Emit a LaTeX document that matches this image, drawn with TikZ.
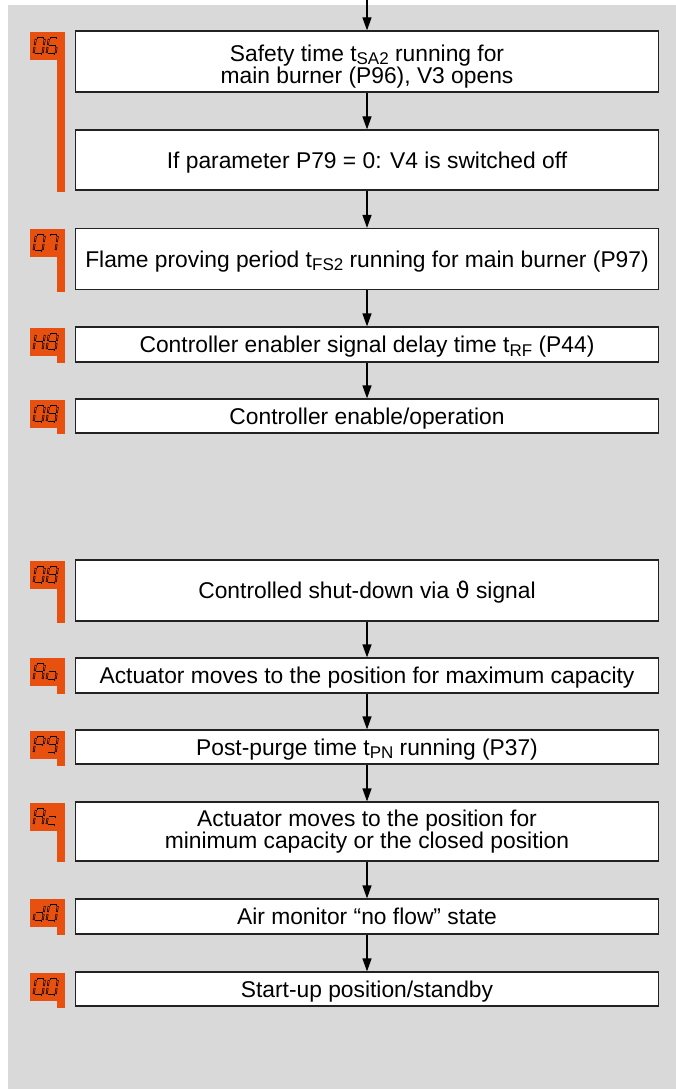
\documentclass[tikz,border=0pt]{standalone}
\usepackage{fontspec}
\setmainfont{Liberation Sans}
\newfontfamily\dvfont{DejaVu Sans}
\usetikzlibrary{arrows.meta}
\definecolor{bggray}{HTML}{D9D9D9}
\definecolor{lblorange}{HTML}{E8500F}
\definecolor{boxline}{HTML}{222222}
\newcommand\subs[1]{\raisebox{-3.5pt}{\fontsize{17}{17}\selectfont #1}}
\tikzset{
  box/.style={draw=boxline, line width=1.2pt, fill=white, minimum width=583pt,
    inner sep=0pt, align=center, font=\fontsize{22.8}{22.5}\selectfont},
  txt/.style={inner sep=0pt, align=center, font=\fontsize{22.8}{22.5}\selectfont},
  one/.style={text height=16.4pt, text depth=0pt},
  arr/.style={-{Triangle[length=13pt,width=9pt]}, line width=1.2pt, draw=black},
  segout/.style={draw=black, line width=1.9pt},
  segin/.style={draw=lblorange, line width=0.7pt, shorten >=0.6pt, shorten <=0.6pt},
}
\newcommand\sevseg[3]{%
  \begin{scope}[shift={(#1,#2)}, x=1pt, y=1pt, xslant=0.15]
    \coordinate (sa1) at (1,16); \coordinate (sa2) at (8,16);
    \coordinate (sb1) at (9,15); \coordinate (sb2) at (9,9);
    \coordinate (sc1) at (9,7);  \coordinate (sc2) at (9,1);
    \coordinate (sd1) at (1,0);  \coordinate (sd2) at (8,0);
    \coordinate (se1) at (0,1);  \coordinate (se2) at (0,7);
    \coordinate (sf1) at (0,9);  \coordinate (sf2) at (0,15);
    \coordinate (sg1) at (1,8);  \coordinate (sg2) at (8,8);
    \foreach \s in #3 {
      \draw[segout] (s\s1) -- (s\s2);
      \draw[segin] (s\s1) -- (s\s2);
    }
  \end{scope}}
% #1 top y, #2 bottom y of stem, #3 first glyph, #4 second glyph
\newcommand\lbl[4]{%
  \fill[lblorange] (30,#1) rectangle (65,{#1+28});
  \fill[lblorange] (57,#1) rectangle (65,#2);
  \sevseg{33.5}{{#1+22}}{#3}
  \sevseg{46.5}{{#1+22}}{#4}}
\def\gZ{a,b,c,d,e,f}
\def\gSix{a,c,d,e,f,g}
\def\gSeven{a,b,c}
\def\gH{b,c,e,f,g}
\def\gEight{a,b,c,d,e,f,g}
\def\gA{a,b,c,e,f,g}
\def\go{c,d,e,g}
\def\gP{a,b,e,f,g}
\def\gNine{a,b,c,d,f,g}
\def\gc{d,e,g}
\def\gd{b,c,d,e,g}
\begin{document}
\begin{tikzpicture}[x=1pt,y=-1pt]
\useasboundingbox (0,0) rectangle (676,1089);
\fill[bggray] (8,5) rectangle (676,1089);

% boxes
\node[box, minimum height=61pt] (b1) at (367,61.5) {};
\node[txt, yshift=-5pt] (t1) at (b1.center) {Safety time t\subs{SA2} running for\\main burner (P96), V3 opens};
\node[box, one, minimum height=60pt] (b2) at (367,160) {If parameter P79 = 0: V4 is switched off};
\node[box, one, minimum height=61pt] (b3) at (367,259) {Flame proving period t\subs{FS2} running for main burner (P97)};
\node[box, one, minimum height=35pt] (b4) at (367,344.5) {Controller enabler signal delay time t\subs{RF} (P44)};
\node[box, one, minimum height=34pt] (b5) at (367,416) {Controller enable/operation};
\node[box, one, minimum height=61pt] (b6) at (367,590.5) {Controlled shut-down via {\dvfont ϑ} signal};
\node[box, one, minimum height=35pt] (b7) at (367,675.5) {Actuator moves to the position for maximum capacity};
\node[box, one, minimum height=34pt] (b8) at (367,747) {Post-purge time t\subs{PN} running (P37)};
\node[box, minimum height=59pt] (b9) at (367,831.5) {Actuator moves to the position for\\minimum capacity or the closed position};
\node[box, one, minimum height=35pt] (b10) at (367,916.5) {Air monitor “no flow” state};
\node[box, one, minimum height=34pt] (b11) at (367,989) {Start-up position/standby};

% connectors
\coordinate (top) at (367,0);
\draw[arr] (top) -- (b1.north);
\draw[arr] (b1.south) -- (b2.north);
\draw[arr] (b2.south) -- (b3.north);
\draw[arr] (b3.south) -- (b4.north);
\draw[arr] (b4.south) -- (b5.north);
\draw[arr] (b6.south) -- (b7.north);
\draw[arr] (b7.south) -- (b8.north);
\draw[arr] (b8.south) -- (b9.north);
\draw[arr] (b9.south) -- (b10.north);
\draw[arr] (b10.south) -- (b11.north);

% status display labels
\lbl{32}{192}{\gZ}{\gSix}
\lbl{229}{292}{\gZ}{\gSeven}
\lbl{328}{363}{\gH}{\gEight}
\lbl{400}{434}{\gZ}{\gEight}
\lbl{561}{623}{\gZ}{\gEight}
\lbl{658}{694}{\gA}{\go}
\lbl{731}{766}{\gP}{\gNine}
\lbl{803}{862}{\gA}{\gc}
\lbl{899}{935}{\gd}{\gZ}
\lbl{973}{1008}{\gZ}{\gZ}
\end{tikzpicture}
\end{document}
